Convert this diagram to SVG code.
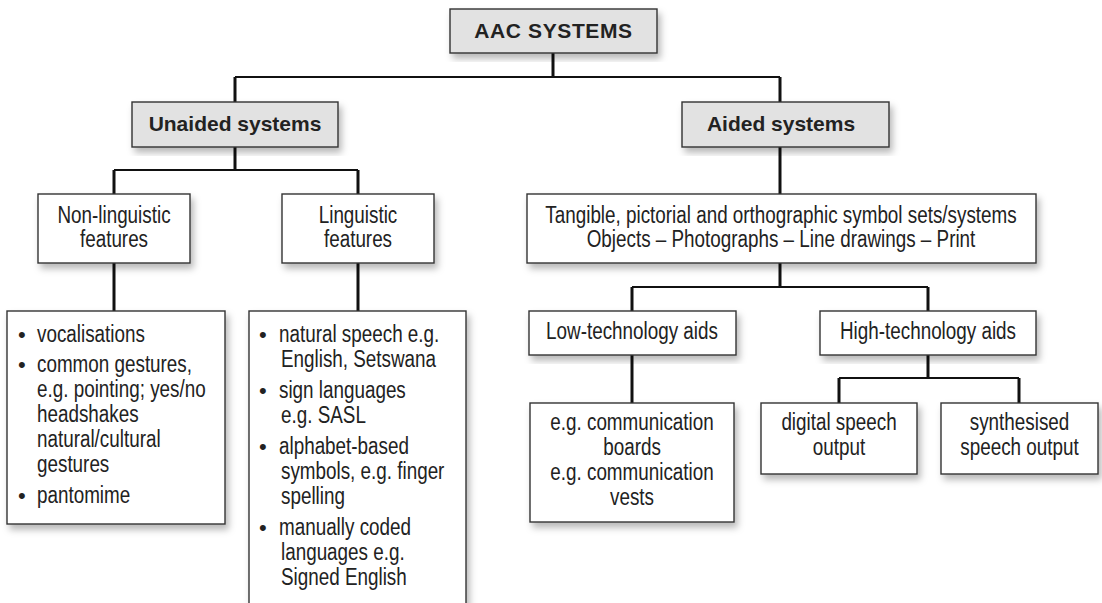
<svg xmlns="http://www.w3.org/2000/svg" width="1102" height="603" viewBox="0 0 1102 603">
  <style>
    .box { fill: #ffffff; stroke: #333333; stroke-width: 1.4; filter: url(#shadow); }
    .head { fill: #e2e2e2; }
    .hd { font-family: "Liberation Sans", Arial, sans-serif; font-weight: bold; font-size: 21px; fill: #222222; text-anchor: middle; }
    /* condensed body text: Arial-metric face squeezed horizontally */
    .tx { font-family: "Liberation Sans", Arial, sans-serif; font-size: 23px; fill: #222222; }
    .c { text-anchor: middle; }
    .bul { font-family: "Liberation Sans", Arial, sans-serif; font-size: 22px; fill: #222222; }
    .h { fill: none; stroke: #111111; stroke-width: 2; }
    .v { fill: none; stroke: #111111; stroke-width: 3; }
  </style>
  <defs>
    <filter id="shadow" x="-10%" y="-10%" width="125%" height="130%">
      <feDropShadow dx="3" dy="5" stdDeviation="3.5" flood-color="#000000" flood-opacity="0.28"/>
    </filter>
  </defs>
  <rect width="1102" height="603" fill="#ffffff"/>

  <!-- tree connectors -->
  <g id="connectors">
    <path class="v" d="M553 53V77"/>
    <path class="h" d="M235 77H780"/>
    <path class="v" d="M235 77V102M780 77V102"/>
    <path class="v" d="M235 147V170"/>
    <path class="h" d="M114 170H358"/>
    <path class="v" d="M114 170V194M358 170V194"/>
    <path class="v" d="M114 263V311M358 263V311"/>
    <path class="v" d="M780 147V194"/>
    <path class="v" d="M780 263V287"/>
    <path class="h" d="M632 287H928"/>
    <path class="v" d="M632 287V311M928 287V311"/>
    <path class="v" d="M632 355V403"/>
    <path class="v" d="M928 355V378"/>
    <path class="h" d="M839 378H1019"/>
    <path class="v" d="M839 378V403M1019 378V403"/>
  </g>

  <g id="aac-systems">
    <rect class="box head" x="450" y="9" width="207" height="44"/>
    <text class="hd" x="553.5" y="38" letter-spacing="0.6">AAC SYSTEMS</text>
  </g>

  <g id="unaided-systems">
    <rect class="box head" x="132" y="102" width="206" height="45"/>
    <text class="hd" x="235" y="131">Unaided systems</text>
  </g>

  <g id="aided-systems">
    <rect class="box head" x="682" y="102" width="207" height="45"/>
    <text class="hd" x="781" y="131">Aided systems</text>
  </g>

  <g id="non-linguistic">
    <rect class="box" x="38" y="194" width="152" height="69"/>
    <text class="tx c" transform="translate(114 223) scale(0.82 1)">Non-linguistic</text>
    <text class="tx c" transform="translate(114 247) scale(0.82 1)">features</text>
  </g>

  <g id="linguistic">
    <rect class="box" x="282" y="194" width="152" height="69"/>
    <text class="tx c" transform="translate(358 223) scale(0.82 1)">Linguistic</text>
    <text class="tx c" transform="translate(358 247) scale(0.82 1)">features</text>
  </g>

  <g id="non-linguistic-examples">
    <rect class="box" x="7" y="311" width="218" height="213"/>
    <text class="bul" x="18" y="342">•</text>
    <text class="tx" transform="translate(37 342) scale(0.82 1)">vocalisations</text>
    <text class="bul" x="18" y="372">•</text>
    <text class="tx" transform="translate(37 372) scale(0.82 1)">common gestures,</text>
    <text class="tx" transform="translate(37 397) scale(0.82 1)">e.g. pointing; yes/no</text>
    <text class="tx" transform="translate(37 422) scale(0.82 1)">headshakes</text>
    <text class="tx" transform="translate(37 447) scale(0.82 1)">natural/cultural</text>
    <text class="tx" transform="translate(37 472) scale(0.82 1)">gestures</text>
    <text class="bul" x="18" y="503">•</text>
    <text class="tx" transform="translate(37 503) scale(0.82 1)">pantomime</text>
  </g>

  <g id="linguistic-examples">
    <rect class="box" x="249" y="311" width="217" height="320"/>
    <text class="bul" x="259" y="342">•</text>
    <text class="tx" transform="translate(279 342) scale(0.82 1)">natural speech e.g.</text>
    <text class="tx" transform="translate(281 367) scale(0.82 1)">English, Setswana</text>
    <text class="bul" x="259" y="398">•</text>
    <text class="tx" transform="translate(279 398) scale(0.82 1)">sign languages</text>
    <text class="tx" transform="translate(281 423) scale(0.82 1)">e.g. SASL</text>
    <text class="bul" x="259" y="454">•</text>
    <text class="tx" transform="translate(279 454) scale(0.82 1)">alphabet-based</text>
    <text class="tx" transform="translate(281 479) scale(0.82 1)">symbols, e.g. finger</text>
    <text class="tx" transform="translate(281 504) scale(0.82 1)">spelling</text>
    <text class="bul" x="259" y="535">•</text>
    <text class="tx" transform="translate(279 535) scale(0.82 1)">manually coded</text>
    <text class="tx" transform="translate(281 560) scale(0.82 1)">languages e.g.</text>
    <text class="tx" transform="translate(281 585) scale(0.82 1)">Signed English</text>
  </g>

  <g id="symbol-sets">
    <rect class="box" x="527" y="194" width="509" height="69"/>
    <text class="tx c" transform="translate(781 223) scale(0.82 1)">Tangible, pictorial and orthographic symbol sets/systems</text>
    <text class="tx c" transform="translate(781 247) scale(0.82 1)">Objects – Photographs – Line drawings – Print</text>
  </g>

  <g id="low-technology">
    <rect class="box" x="529" y="311" width="207" height="44"/>
    <text class="tx c" transform="translate(632 339) scale(0.82 1)">Low-technology aids</text>
  </g>

  <g id="high-technology">
    <rect class="box" x="820" y="311" width="216" height="44"/>
    <text class="tx c" transform="translate(928 339) scale(0.82 1)">High-technology aids</text>
  </g>

  <g id="low-technology-examples">
    <rect class="box" x="530" y="403" width="204" height="119"/>
    <text class="tx c" transform="translate(632 430) scale(0.82 1)">e.g. communication</text>
    <text class="tx c" transform="translate(632 455) scale(0.82 1)">boards</text>
    <text class="tx c" transform="translate(632 480) scale(0.82 1)">e.g. communication</text>
    <text class="tx c" transform="translate(632 505) scale(0.82 1)">vests</text>
  </g>

  <g id="digital-speech">
    <rect class="box" x="761" y="403" width="156" height="71"/>
    <text class="tx c" transform="translate(839 430) scale(0.82 1)">digital speech</text>
    <text class="tx c" transform="translate(839 455) scale(0.82 1)">output</text>
  </g>

  <g id="synthesised-speech">
    <rect class="box" x="941" y="403" width="157" height="71"/>
    <text class="tx c" transform="translate(1019.5 430) scale(0.82 1)">synthesised</text>
    <text class="tx c" transform="translate(1019.5 455) scale(0.82 1)">speech output</text>
  </g>
</svg>
